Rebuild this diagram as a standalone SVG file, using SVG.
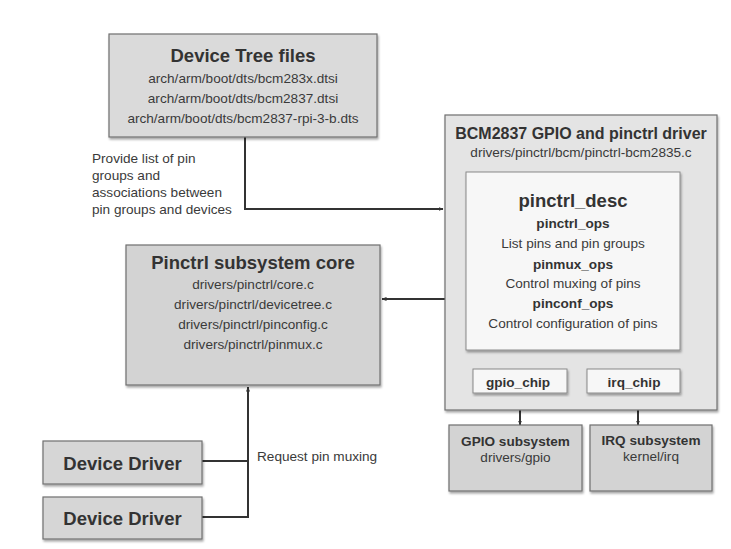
<svg xmlns="http://www.w3.org/2000/svg" width="731" height="549" viewBox="0 0 731 549">
<defs>
<filter id="sh" x="-5%" y="-5%" width="115%" height="120%">
<feDropShadow dx="1" dy="2" stdDeviation="1" flood-color="#000" flood-opacity="0.35"/>
</filter>
<marker id="ah" viewBox="0 0 10 10" refX="9" refY="5" markerWidth="5" markerHeight="5" orient="auto" markerUnits="userSpaceOnUse">
<path d="M0,1 L10,5 L0,9 z" fill="#333"/>
</marker>
<style>
.box{fill:#d6d6d6;stroke:#707070;stroke-width:1.2;filter:url(#sh)}
.bcm{fill:#e4e4e4;stroke:#707070;stroke-width:1.2;filter:url(#sh)}
.wbox{fill:#f7f7f7;stroke:#8a8a8a;stroke-width:1;filter:url(#sh)}
text{font-family:"Liberation Sans",Arial,sans-serif;fill:#3a3a3a;text-anchor:middle}
.t{font-size:18.5px;font-weight:bold;fill:#333}
.t16{font-size:16px;font-weight:bold;fill:#333}
.b{font-size:13.6px}
.bb{font-size:13.6px;font-weight:bold;fill:#333}
.l{text-anchor:start}
.c{fill:none;stroke:#333;stroke-width:2}
</style>
</defs>
<rect width="731" height="549" fill="#fff"/>

<g id="connectors">
<path class="c" d="M245,137 V209 H443" marker-end="url(#ah)"/>
<path class="c" d="M445,299 H382" marker-end="url(#ah)"/>
<path class="c" d="M202,461 H248 M202,517 H248"/>
<path class="c" d="M248,518 V387" marker-end="url(#ah)"/>
<path class="c" d="M520,393 V425" marker-end="url(#ah)"/>
<path class="c" d="M638,393 V425" marker-end="url(#ah)"/>
<text class="b l" x="92" y="163">Provide list of pin</text>
<text class="b l" x="92" y="180">groups and</text>
<text class="b l" x="92" y="197">associations between</text>
<text class="b l" x="92" y="214">pin groups and devices</text>
<text class="b l" x="257" y="461">Request pin muxing</text>
</g>

<g id="device-tree">
<rect class="box" x="109" y="34" width="268" height="103" fill="#dadada" style="fill:#dadada"/>
<text class="t" x="243" y="61.5">Device Tree files</text>
<text class="b" x="243" y="83">arch/arm/boot/dts/bcm283x.dtsi</text>
<text class="b" x="243" y="103">arch/arm/boot/dts/bcm2837.dtsi</text>
<text class="b" x="243" y="123">arch/arm/boot/dts/bcm2837-rpi-3-b.dts</text>
</g>

<g id="bcm-driver">
<rect class="bcm" x="445" y="115" width="272" height="295"/>
<text class="t16" x="581" y="138.5">BCM2837 GPIO and pinctrl driver</text>
<text class="b" x="581" y="157">drivers/pinctrl/bcm/pinctrl-bcm2835.c</text>
</g>

<g id="pinctrl-desc">
<rect class="wbox" x="466" y="172" width="214" height="178"/>
<text class="t" x="573" y="206.5">pinctrl_desc</text>
<text class="bb" x="573" y="228">pinctrl_ops</text>
<text class="b" x="573" y="248">List pins and pin groups</text>
<text class="bb" x="573" y="269">pinmux_ops</text>
<text class="b" x="573" y="288">Control muxing of pins</text>
<text class="bb" x="573" y="308">pinconf_ops</text>
<text class="b" x="573" y="328">Control configuration of pins</text>
</g>

<g id="gpio-chip">
<rect class="wbox" x="473" y="369" width="94" height="24"/>
<text class="bb" x="518" y="386.5">gpio_chip</text>
</g>

<g id="irq-chip">
<rect class="wbox" x="587" y="369" width="93" height="24"/>
<text class="bb" x="634" y="386.5">irq_chip</text>
</g>

<g id="pinctrl-core">
<rect class="box" x="126" y="245" width="254" height="140" style="fill:#d3d3d3"/>
<text class="t" x="253" y="268.5">Pinctrl subsystem core</text>
<text class="b" x="253" y="289">drivers/pinctrl/core.c</text>
<text class="b" x="253" y="309">drivers/pinctrl/devicetree.c</text>
<text class="b" x="253" y="329">drivers/pinctrl/pinconfig.c</text>
<text class="b" x="253" y="349">drivers/pinctrl/pinmux.c</text>
</g>

<g id="gpio-subsystem">
<rect class="box" x="449" y="425" width="133" height="66" style="fill:#d3d3d3"/>
<text class="bb" x="515.5" y="445.5">GPIO subsystem</text>
<text class="b" x="515.5" y="462">drivers/gpio</text>
</g>

<g id="irq-subsystem">
<rect class="box" x="590" y="425" width="122" height="66" style="fill:#d3d3d3"/>
<text class="bb" x="651" y="444.5">IRQ subsystem</text>
<text class="b" x="651" y="460.5">kernel/irq</text>
</g>

<g id="device-driver-1">
<rect class="box" x="43" y="441" width="159" height="43"/>
<text class="t" x="122.5" y="469.5">Device Driver</text>
</g>

<g id="device-driver-2">
<rect class="box" x="43" y="497" width="159" height="42"/>
<text class="t" x="122.5" y="525">Device Driver</text>
</g>
</svg>
